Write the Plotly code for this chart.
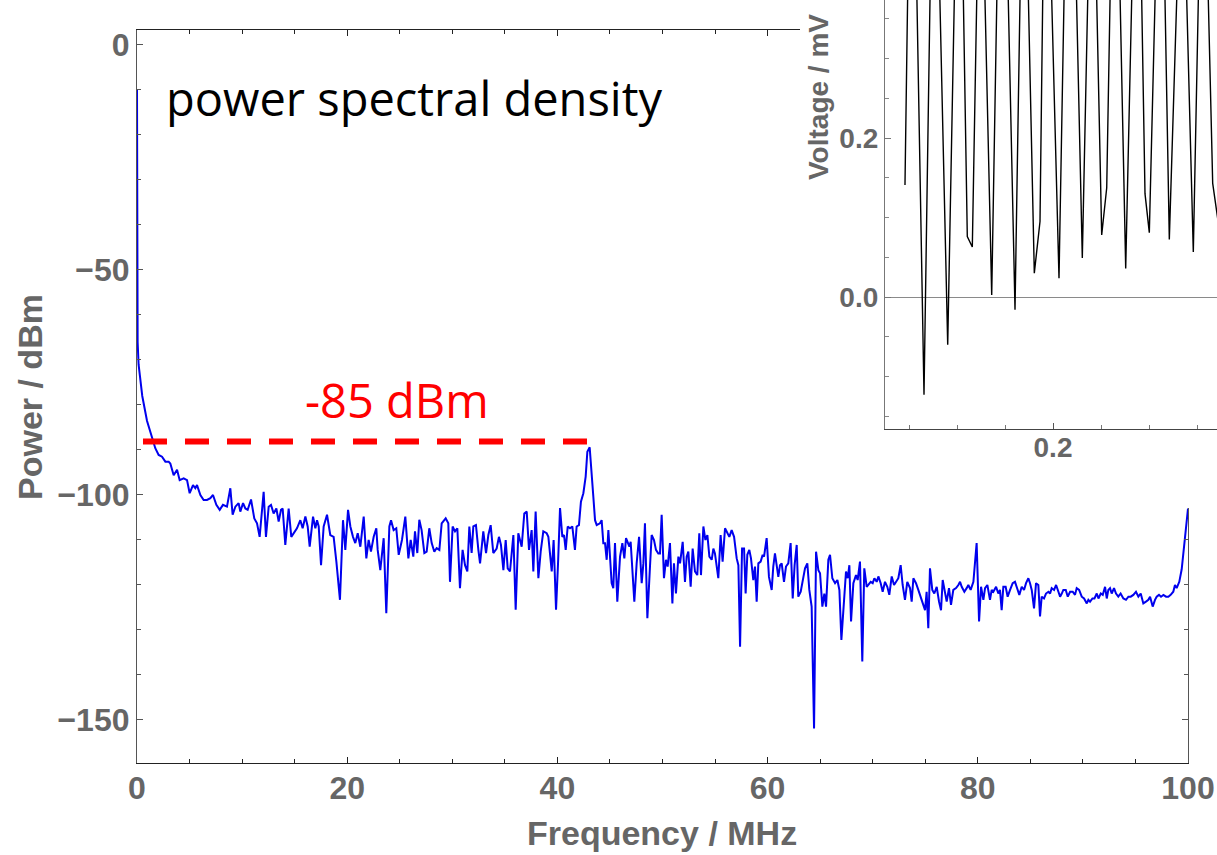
import plotly.graph_objects as go

# ---------------- data: power spectral density ----------------
freq_a = [0.00, 0.03, 0.06, 0.15, 0.30, 0.50, 0.95, 1.43, 1.74, 2.06,
          2.38, 2.70, 3.01, 3.17, 3.49, 3.81, 4.06, 4.44, 4.76, 5.01,
          5.33, 5.55, 5.71, 6.03, 6.34, 6.66, 6.98, 7.23, 7.55, 7.87,
          8.18, 8.56, 8.88, 9.10, 9.36, 9.67, 9.83, 10.09, 10.31, 10.53,
          10.85, 11.16, 11.42, 11.67, 12.05, 12.27, 12.53, 12.75, 13.00, 13.26,
          13.48, 13.70, 13.86, 14.11, 14.43, 14.68, 14.97, 15.22, 15.54, 15.76,
          16.02, 16.24, 16.43, 16.75, 16.97, 17.13, 17.29, 17.51, 17.76, 18.08,
          18.39, 18.71, 18.97, 19.31, 19.60, 19.82, 20.08, 20.30, 20.55, 20.77,
          21.00, 21.25, 21.57, 21.82, 22.04, 22.26, 22.52, 22.77, 22.90, 23.15,
          23.47, 23.72, 24.01, 24.17, 24.42, 24.67, 24.90, 25.21, 25.53]
power_a = [-10.0, -45.0, -66.0, -71.0, -74.5, -78.0, -83.5, -87.4, -89.6, -91.1,
           -91.5, -92.6, -92.6, -93.0, -95.6, -94.4, -96.7, -96.3, -96.7, -99.6,
           -97.8, -98.5, -97.8, -100.0, -101.1, -101.1, -100.7, -100.0, -102.2, -103.3,
           -102.2, -102.6, -98.5, -104.4, -102.6, -101.8, -103.7, -101.8, -103.0, -103.3,
           -101.0, -105.2, -106.3, -109.3, -99.3, -109.3, -102.6, -102.2, -104.1, -103.0,
           -105.9, -103.3, -103.0, -111.1, -103.0, -109.3, -108.2, -107.4, -105.6, -107.4,
           -104.8, -107.0, -111.5, -104.8, -107.4, -105.6, -107.0, -115.6, -107.0, -104.4,
           -108.9, -109.3, -114.8, -123.3, -105.6, -112.2, -103.3, -107.0, -109.3, -110.7,
           -108.5, -111.5, -104.8, -114.1, -110.0, -112.6, -109.3, -107.4, -112.2, -116.7,
           -109.6, -126.3, -107.0, -105.6, -107.8, -107.4, -113.3, -110.0, -104.8]

freq_b = [25.82, 26.04, 26.29, 26.45, 26.67, 26.86, 27.08, 27.34, 27.56, 27.81,
          28.04, 28.29, 28.51, 28.77, 28.99, 29.37, 29.62, 29.78, 30.03, 30.26,
          30.48, 30.73, 30.98, 31.21, 31.43, 31.62, 31.84, 32.00, 32.25, 32.48,
          32.64, 32.95, 33.21, 33.43, 33.65, 33.90, 34.22, 34.44, 34.63, 34.86,
          35.08, 35.27, 35.49, 35.81, 36.03, 36.28, 36.60, 36.85, 37.08, 37.30,
          37.55, 37.71, 37.93, 38.19, 38.41, 38.66, 38.98, 39.14, 39.46, 39.64,
          39.87, 40.06, 40.25, 40.47, 40.63, 40.79, 40.98, 41.20, 41.42, 41.67,
          41.83, 42.05, 42.24, 42.47, 42.69, 42.85, 43.07]
power_b = [-114.1, -110.0, -113.7, -108.1, -112.9, -105.5, -107.8, -112.9, -112.6, -107.4,
           -110.7, -112.6, -111.8, -112.2, -106.3, -105.2, -106.3, -119.3, -107.0, -108.1,
           -107.4, -120.7, -112.2, -115.6, -117.0, -107.0, -112.9, -107.0, -106.7, -112.2,
           -115.2, -108.1, -112.9, -108.9, -106.7, -112.9, -111.9, -109.3, -111.1, -116.7,
           -110.0, -116.3, -117.0, -108.9, -125.5, -108.5, -111.5, -104.1, -103.7, -112.2,
           -107.8, -117.0, -103.7, -118.5, -112.6, -108.1, -108.5, -109.3, -117.0, -110.0,
           -125.5, -115.2, -102.9, -109.3, -108.9, -112.2, -107.0, -107.4, -107.0, -112.2,
           -107.0, -106.7, -101.5, -99.6, -95.9, -90.4, -89.4]

freq_c = [43.42, 43.58, 43.74, 44.05, 44.21, 44.37, 44.53, 44.69, 44.85, 45.00,
          45.16, 45.32, 45.48, 45.70, 45.96, 46.18, 46.37, 46.53, 46.69, 46.85,
          46.97, 47.13, 47.32, 47.54, 47.77, 48.02, 48.18, 48.33, 48.56, 48.81,
          48.97, 49.19, 49.38, 49.60, 49.76, 49.92, 50.14, 50.33, 50.49, 50.71,
          50.94, 51.09, 51.28, 51.51, 51.67, 51.92, 52.14, 52.30, 52.46, 52.68,
          52.87, 53.09, 53.31, 53.50, 53.66, 53.89, 54.08, 54.27, 54.46, 54.68,
          54.84, 54.99, 55.31, 55.53, 55.72, 55.95, 56.17, 56.36, 56.58, 56.81,
          57.06, 57.22, 57.38, 57.57, 57.76, 57.91, 58.07, 58.26, 58.42, 58.64,
          58.80, 58.96, 59.12, 59.34, 59.53, 59.66, 59.91, 60.13, 60.39, 60.54,
          60.70, 60.86, 61.02]
power_c = [-100.4, -105.6, -106.7, -106.3, -105.6, -110.7, -110.7, -114.4, -107.8, -113.7,
           -119.6, -120.7, -110.7, -123.7, -113.7, -110.7, -114.1, -109.6, -110.7, -111.5,
           -110.4, -116.7, -123.7, -115.2, -109.3, -119.6, -115.2, -106.3, -127.4, -115.9,
           -108.9, -110.0, -112.2, -113.0, -113.0, -104.4, -118.5, -114.4, -115.9, -110.7,
           -124.1, -115.2, -121.9, -113.7, -115.2, -110.4, -119.3, -113.7, -112.6, -120.4,
           -111.9, -117.0, -117.8, -108.5, -117.8, -107.0, -110.0, -108.9, -113.7, -114.4,
           -111.9, -113.0, -118.5, -108.9, -114.8, -107.4, -108.5, -109.3, -107.8, -109.3,
           -114.1, -115.6, -133.7, -111.9, -111.9, -121.9, -113.3, -112.2, -114.1, -118.9,
           -115.9, -123.7, -115.2, -114.8, -113.3, -113.7, -109.6, -118.2, -121.1, -115.9,
           -113.0, -115.2, -118.2]

freq_d = [61.18, 61.34, 61.56, 61.75, 61.97, 62.19, 62.39, 62.57, 62.77, 62.92,
          63.15, 63.34, 63.56, 63.78, 63.97, 64.19, 64.42, 64.61, 64.83, 64.99,
          65.21, 65.40, 65.56, 65.78, 65.94, 66.16, 66.42, 66.64, 66.83, 67.02,
          67.27, 67.46, 67.62, 67.78, 67.94, 68.16, 68.41, 68.57, 68.79, 69.01,
          69.20, 69.43, 69.58, 69.81, 70.00, 70.16, 70.38, 70.54, 70.76, 70.95,
          71.17, 71.39, 71.58, 71.81, 72.03, 72.28, 72.44, 72.66, 72.85, 73.07,
          73.29, 73.55, 73.71, 73.87, 74.12, 74.34, 74.56, 74.75, 74.98, 75.13,
          75.29, 75.45, 75.67, 75.86, 76.09, 76.31, 76.50, 76.66, 76.82, 77.04,
          77.26, 77.45, 77.67, 77.93, 78.15, 78.31, 78.47, 78.72, 78.94, 79.10,
          79.32, 79.58, 79.89, 80.12, 80.31, 80.53, 80.69, 80.91, 81.16, 81.32,
          81.48, 81.74, 81.95, 82.11, 82.27, 82.43, 82.65, 82.84, 83.07, 83.32,
          83.54, 83.76, 83.95, 84.18, 84.40, 84.59, 84.81, 84.97, 85.13, 85.35,
          85.54, 85.76, 85.92, 86.08, 86.30, 86.49, 86.72, 86.88, 87.03, 87.26,
          87.45, 87.67, 87.83, 87.99, 88.14, 88.37, 88.56, 88.78, 89.03, 89.25,
          89.41, 89.64, 89.89, 90.11, 90.37, 90.52, 90.68, 90.91, 91.10, 91.32,
          91.48, 91.70, 91.89, 92.11, 92.27, 92.42, 92.58, 92.74, 92.96, 93.15,
          93.37, 93.59, 93.85, 94.10, 94.33, 94.55, 94.80, 95.05, 95.28, 95.50,
          95.75, 96.00, 96.23, 96.39, 96.64, 96.86, 97.02, 97.24, 97.43, 97.66,
          97.91, 98.13, 98.35, 98.60, 98.76, 98.92, 99.17, 99.40, 99.62, 99.80,
          100.00]
power_d = [-115.6, -115.2, -119.3, -115.9, -115.2, -110.7, -123.0, -115.6, -111.1, -122.6,
           -121.5, -118.9, -116.3, -115.2, -121.1, -124.8, -151.9, -112.6, -116.7, -117.4,
           -124.8, -121.9, -124.8, -114.4, -113.3, -118.5, -119.6, -118.9, -121.1, -132.2,
           -123.0, -117.0, -118.5, -115.6, -128.1, -119.6, -117.8, -118.9, -114.8, -137.0,
           -116.3, -120.4, -120.0, -119.3, -119.6, -118.5, -119.3, -118.1, -119.6, -121.5,
           -119.3, -120.4, -122.2, -118.1, -120.0, -118.9, -118.5, -115.6, -120.0, -123.3,
           -119.3, -120.7, -123.7, -118.5, -119.6, -121.1, -122.6, -124.1, -125.6, -121.5,
           -129.6, -116.3, -121.1, -121.9, -120.4, -123.7, -125.6, -118.9, -120.7, -123.7,
           -120.7, -124.4, -121.1, -120.7, -120.0, -119.3, -120.4, -121.5, -120.7, -120.0,
           -121.1, -119.3, -110.7, -128.1, -120.4, -123.3, -120.7, -120.0, -123.3, -121.1,
           -121.5, -120.4, -121.9, -121.1, -125.6, -120.4, -120.4, -122.6, -121.1, -119.6,
           -119.3, -121.1, -122.2, -120.4, -121.1, -119.6, -118.5, -119.6, -121.1, -125.2,
           -119.6, -120.0, -127.0, -122.6, -123.0, -121.9, -121.5, -121.9, -120.7, -121.1,
           -120.0, -121.5, -122.6, -121.9, -121.1, -121.1, -122.6, -121.5, -121.5, -122.2,
           -120.7, -121.1, -122.6, -123.0, -124.1, -123.3, -123.7, -123.0, -123.0, -121.9,
           -123.0, -121.9, -122.2, -120.4, -123.0, -121.1, -120.7, -121.9, -120.7, -121.9,
           -122.6, -121.9, -123.0, -123.3, -122.6, -122.6, -122.2, -121.5, -122.6, -121.9,
           -124.1, -123.7, -123.3, -122.6, -124.8, -123.3, -122.6, -122.2, -122.6, -122.2,
           -122.6, -122.6, -122.2, -121.5, -120.0, -120.7, -119.3, -116.5, -112.0, -108.5,
           -103.0]

for fa, pa in ((freq_a, power_a), (freq_b, power_b), (freq_c, power_c), (freq_d, power_d)):
    assert len(fa) == len(pa), (len(fa), len(pa))

freq_mhz = freq_a + freq_b + freq_c + freq_d
power_dbm = power_a + power_b + power_c + power_d

# red dashed reference level (as drawn)
ref_freq_mhz = [0.57, 43.4]
ref_power_dbm = [-88.1, -88.1]
ref_label = "-85 dBm"

# ---------------- data: inset time trace ----------------
time_us = [0.13833, 0.14000, 0.14250, 0.14625, 0.14938, 0.15200, 0.15613, 0.15967,
           0.16192, 0.16429, 0.16638, 0.16896, 0.17071, 0.17446, 0.17725, 0.18046,
           0.18417, 0.18692, 0.18879, 0.19221, 0.19458, 0.19621, 0.19838, 0.20250,
           0.20533, 0.20896, 0.21221, 0.21533, 0.21733, 0.22029, 0.22238, 0.22450,
           0.22704, 0.23029, 0.23371, 0.23625, 0.23833, 0.24013, 0.24354, 0.24592,
           0.24846, 0.25283, 0.25463, 0.25846, 0.26138, 0.26371, 0.26654, 0.27042]
voltage_mv = [0.141, 0.50, 0.51, -0.123, 0.50, 0.49, -0.060, 0.50,
              0.51, 0.076, 0.063, 0.50, 0.50, 0.0025, 0.49, 0.50,
              -0.016, 0.50, 0.51, 0.030, 0.095, 0.50, 0.50, 0.0235,
              0.50, 0.49, 0.049, 0.50, 0.50, 0.078, 0.1375, 0.50,
              0.51, 0.036, 0.50, 0.50, 0.130, 0.081, 0.50, 0.50,
              0.0725, 0.50, 0.50, 0.0566, 0.50, 0.50, 0.143, 0.060]
assert len(time_us) == len(voltage_mv)

# ---------------- layout helpers ----------------
W, H = 1217, 855


def px_x(px):
    return px / W


def px_y(py):
    return 1 - py / H


SANS_BOLD = "Liberation Sans, Arial, sans-serif"
LABEL_GRAY = "#666666"
TEXT_FONT = "Open Sans, Noto Sans, sans-serif"

fig = go.Figure()

fig.add_trace(go.Scatter(x=freq_mhz, y=power_dbm, mode="lines",
                         line=dict(color="#0000ee", width=2.0),
                         xaxis="x", yaxis="y", showlegend=False))
fig.add_trace(go.Scatter(x=ref_freq_mhz, y=ref_power_dbm, mode="lines",
                         line=dict(color="#ff0000", width=6, dash="24px,18px"),
                         xaxis="x", yaxis="y", showlegend=False))
# white cover panel for the inset (the inset sits on top of the main frame)
fig.add_trace(go.Scatter(x=[], y=[], xaxis="x2", yaxis="y2", showlegend=False))
fig.add_trace(go.Scatter(x=time_us, y=voltage_mv, mode="lines",
                         line=dict(color="#000000", width=1.4),
                         xaxis="x3", yaxis="y3", showlegend=False))

tick_font_main = dict(family=SANS_BOLD, size=32, color=LABEL_GRAY, weight="bold")
tick_font_inset = dict(family=SANS_BOLD, size=28, color=LABEL_GRAY, weight="bold")

fig.update_layout(
    template="none",
    width=W, height=H, autosize=False,
    margin=dict(l=0, r=0, t=0, b=0, pad=0),
    paper_bgcolor="white", plot_bgcolor="white",
    showlegend=False,
    xaxis=dict(domain=[px_x(137), px_x(1188)], range=[0, 100], anchor="y", automargin=False,
               showline=True, linecolor="#222222", linewidth=1.2, mirror="ticks",
               ticks="inside", ticklen=6, tickwidth=1, tickcolor="#222222",
               tickmode="linear", tick0=0, dtick=20, ticklabelstandoff=-4,
               minor=dict(tickmode="linear", tick0=0, dtick=5, ticks="inside",
                          ticklen=3.5, tickcolor="#222222", showgrid=False),
               tickfont=tick_font_main, showgrid=False, zeroline=False),
    yaxis=dict(domain=[px_y(763), px_y(30)], range=[-159.56, 3.33], anchor="x", automargin=False,
               showline=True, linecolor="#555555", linewidth=1.2, mirror="ticks",
               ticks="inside", ticklen=6, tickwidth=1, tickcolor="#555555",
               tickmode="linear", tick0=0, dtick=50,
               minor=dict(tickmode="linear", tick0=0, dtick=10, ticks="inside",
                          ticklen=3.5, tickcolor="#555555", showgrid=False),
               tickfont=tick_font_main, showgrid=False, zeroline=False),
    xaxis2=dict(domain=[px_x(800), 1.0], range=[0, 1], anchor="y2", visible=False, automargin=False),
    yaxis2=dict(domain=[px_y(508), 1.0], range=[0, 1], anchor="x2", visible=False, automargin=False),
    xaxis3=dict(domain=[px_x(885), 1.0], range=[0.13, 0.26833], anchor="y3", automargin=False,
                showline=True, linecolor="#444444", linewidth=1.2,
                ticks="inside", ticklen=6, tickcolor="#555555",
                tickmode="linear", tick0=0, dtick=0.1, tickformat=".1f", ticklabelstandoff=-7,
                minor=dict(tickmode="linear", tick0=0, dtick=0.02, ticks="inside",
                           ticklen=3.5, tickcolor="#777777", showgrid=False),
                tickfont=tick_font_inset, showgrid=False, zeroline=False),
    yaxis3=dict(domain=[px_y(429), 1.0], range=[-0.166, 0.3736], anchor="x3", automargin=False,
                showline=True, linecolor="#777777", linewidth=1.2,
                ticks="inside", ticklen=6, tickcolor="#777777",
                tickmode="linear", tick0=0, dtick=0.2, tickformat=".1f",
                minor=dict(tickmode="linear", tick0=0, dtick=0.05, ticks="inside",
                           ticklen=3.5, tickcolor="#888888", showgrid=False),
                tickfont=tick_font_inset, showgrid=False,
                zeroline=True, zerolinecolor="#8a8a8a", zerolinewidth=1),
    annotations=[
        dict(text="power spectral density", x=px_x(414), y=px_y(98),
             xref="paper", yref="paper", xanchor="center", yanchor="middle",
             showarrow=False, font=dict(family=TEXT_FONT, size=47, color="black")),
        dict(text=ref_label, x=px_x(397), y=px_y(400),
             xref="paper", yref="paper", xanchor="center", yanchor="middle",
             showarrow=False, font=dict(family=TEXT_FONT, size=47, color="#ff0000")),
        dict(text="Frequency / MHz", x=px_x(662), y=px_y(833),
             xref="paper", yref="paper", xanchor="center", yanchor="middle",
             showarrow=False, font=dict(family=SANS_BOLD, size=34, color=LABEL_GRAY, weight="bold")),
        dict(text="Power / dBm", x=px_x(30), y=px_y(397), textangle=-90,
             xref="paper", yref="paper", xanchor="center", yanchor="middle",
             showarrow=False, font=dict(family=SANS_BOLD, size=34, color=LABEL_GRAY, weight="bold")),
        dict(text="Voltage / mV", x=px_x(819), y=px_y(97), textangle=-90,
             xref="paper", yref="paper", xanchor="center", yanchor="middle",
             showarrow=False, font=dict(family=SANS_BOLD, size=28, color=LABEL_GRAY, weight="bold")),
    ],
)

fig.write_html("out.html")
